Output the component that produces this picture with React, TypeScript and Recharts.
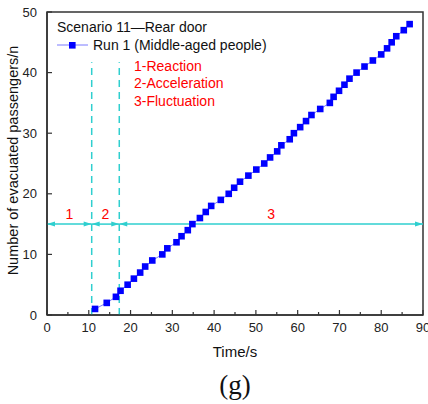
import React from 'react';
import { LineChart, Line, XAxis, YAxis, Legend, ReferenceLine, ReferenceArea } from 'recharts';

// evacuation time (s) of each passenger
const times = [
  11.5, 14.3, 16.5, 17.6, 19.3, 20.8, 22.3, 23.5, 25.2, 27.6,
  28.8, 31.0, 32.2, 33.7, 34.8, 36.6, 38.0, 39.3, 41.6, 43.5,
  44.8, 46.2, 48.2, 50.1, 52.0, 53.4, 55.1, 56.1, 58.1, 59.1,
  60.6, 62.0, 63.3, 65.4, 67.7, 68.6, 69.9, 71.2, 72.4, 74.1,
  76.0, 78.0, 80.0, 81.4, 82.5, 83.6, 85.4, 86.8,
];
const counts = [
  1, 2, 3, 4, 5, 6, 7, 8, 9, 10,
  11, 12, 13, 14, 15, 16, 17, 18, 19, 20,
  21, 22, 23, 24, 25, 26, 27, 28, 29, 30,
  31, 32, 33, 34, 35, 36, 37, 38, 39, 40,
  41, 42, 43, 44, 45, 46, 47, 48,
];
const xTicks = [0, 5, 10, 15, 20, 25, 30, 35, 40, 45, 50, 55, 60, 65, 70, 75, 80, 85, 90];
const yTicks = [0, 10, 20, 30, 40, 50];

// stage boundaries (s) and the level where the stage arrows sit
const stageEdges = [0, 10.7, 17.3, 90];
const stageLabels = ['1', '2', '3'];
const stageLevel = 15;
const dashTop = 41.7;
const stageNames = ['1-Reaction', '2-Acceleration', '3-Fluctuation'];

const data = times.map((t, i) => ({ t, n: counts[i] }));

const FONT = '"Liberation Sans", Arial, Helvetica, sans-serif';
const AXIS = '#333';
const CYAN = '#2fcfcf';

const XTick = ({ x, y, payload }: any) => {
  const major = payload.value % 10 === 0;
  return (
    <g>
      <line x1={x} x2={x} y1={y} y2={y - (major ? 5 : 3)} stroke={AXIS} strokeWidth={1.2} />
      {major && (
        <text x={x} y={y + 17} textAnchor="middle" fontSize={13} fill="#222" fontFamily={FONT}>
          {payload.value}
        </text>
      )}
    </g>
  );
};

const YTick = ({ x, y, payload }: any) => (
  <g>
    <line x1={x} x2={x + 5} y1={y} y2={y} stroke={AXIS} strokeWidth={1.2} />
    <text x={x - 10} y={y + 4.5} textAnchor="end" fontSize={13} fill="#222" fontFamily={FONT}>
      {payload.value}
    </text>
  </g>
);

const YLabel = ({ viewBox }: any) => {
  const cx = viewBox.x + 10;
  const cy = viewBox.y + viewBox.height / 2 - 3;
  return (
    <text
      x={cx}
      y={cy}
      transform={`rotate(-90 ${cx} ${cy})`}
      textAnchor="middle"
      fontSize={14.5}
      fill="#111"
      fontFamily={FONT}
    >
      Number of evacuated passengers/n
    </text>
  );
};

const SquareDot = ({ cx, cy }: any) => (
  <rect x={cx - 3.3} y={cy - 3.3} width={6.6} height={6.6} fill="#0000ff" />
);

// double headed arrow with its stage number above
const arrowShape = (label: string) => (props: any) => {
  const { x1, y1, x2 } = props;
  const len = 8;
  const w = 2.5;
  return (
    <g>
      <line x1={x1} y1={y1} x2={x2} y2={y1} stroke={CYAN} strokeWidth={1.5} />
      <polygon points={`${x1},${y1} ${x1 + len},${y1 - w} ${x1 + len},${y1 + w}`} fill={CYAN} />
      <polygon points={`${x2},${y1} ${x2 - len},${y1 - w} ${x2 - len},${y1 + w}`} fill={CYAN} />
      <text x={(x1 + x2) / 2} y={y1 - 5} textAnchor="middle" fontSize={14} fill="red" fontFamily={FONT}>
        {label}
      </text>
    </g>
  );
};

const LegendBox = () => (
  <div style={{ fontFamily: FONT, fontSize: 14, color: '#111', lineHeight: '18px' }}>
    <div>Scenario 11—Rear door</div>
    <div style={{ display: 'flex', alignItems: 'center' }}>
      <svg width={34} height={18}>
        <line x1={0} x2={31} y1={9} y2={9} stroke="#7b7bff" strokeWidth={1} />
        <rect x={12} y={6} width={6.6} height={6.6} fill="#0000ff" />
      </svg>
      <span style={{ marginLeft: 2 }}>Run 1 (Middle-aged people)</span>
    </div>
  </div>
);

export default function App() {
  return (
    <div
      style={{
        position: 'absolute',
        left: 0,
        top: 0,
        width: 428,
        height: 404,
        background: '#fff',
        fontFamily: FONT,
      }}
    >
      <LineChart width={428} height={404} data={data} margin={{ top: 12, right: 5, bottom: 39, left: 8 }}>
        <XAxis
          dataKey="t"
          type="number"
          domain={[0, 90]}
          ticks={xTicks}
          interval={0}
          tickSize={0}
          tickMargin={0}
          tick={<XTick />}
          height={50}
          axisLine={{ stroke: AXIS, strokeWidth: 1.5 }}
          label={{ value: 'Time/s', position: 'insideBottom', offset: 8, fontSize: 15, fill: '#111' }}
        />
        <YAxis
          type="number"
          domain={[0, 50]}
          ticks={yTicks}
          interval={0}
          tickSize={0}
          tickMargin={0}
          tick={<YTick />}
          width={39}
          axisLine={{ stroke: AXIS, strokeWidth: 1.5 }}
          label={{ content: <YLabel /> }}
        />
        <ReferenceArea x1={0} x2={90} y1={0} y2={50} fill="none" stroke={AXIS} strokeWidth={1.5} />
        {stageEdges.slice(1, 3).map((e) => (
          <ReferenceLine
            key={'d' + e}
            segment={[{ x: e, y: 0 }, { x: e, y: dashTop }]}
            stroke={CYAN}
            strokeWidth={1.5}
            strokeDasharray="7 5"
          />
        ))}
        {stageLabels.map((lab, i) => (
          <ReferenceLine
            key={'s' + lab}
            segment={[{ x: stageEdges[i], y: stageLevel }, { x: stageEdges[i + 1], y: stageLevel }]}
            shape={arrowShape(lab)}
          />
        ))}
        <Line
          dataKey="n"
          stroke="#7b7bff"
          strokeWidth={1}
          dot={<SquareDot />}
          isAnimationActive={false}
        />
        <Legend
          layout="horizontal"
          verticalAlign="middle"
          align="center"
          content={<LegendBox />}
          wrapperStyle={{ top: 18, left: 57, width: 'auto' }}
        />
      </LineChart>
      <div
        style={{
          position: 'absolute',
          left: 134,
          top: 58,
          color: 'red',
          fontSize: 14,
          lineHeight: '17.3px',
        }}
      >
        {stageNames.map((s) => (
          <div key={s}>{s}</div>
        ))}
      </div>
      <div
        style={{
          position: 'absolute',
          left: 0,
          width: 470,
          top: 372,
          textAlign: 'center',
          fontFamily: '"Liberation Serif", "Times New Roman", serif',
          fontSize: 27,
          lineHeight: '27px',
          color: '#111',
        }}
      >
        (g)
      </div>
    </div>
  );
}
